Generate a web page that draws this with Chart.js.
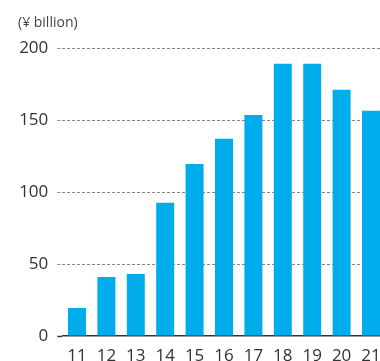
<!DOCTYPE html>
<html>
<head>
<meta charset="utf-8">
<script src="https://cdn.jsdelivr.net/npm/chart.js@4/dist/chart.umd.min.js"></script>
<style>
  html, body { margin: 0; padding: 0; background: #fff; overflow: hidden; }
  #wrap { width: 380px; height: 361px; overflow: hidden; }
</style>
</head>
<body>
<div id="wrap"><canvas id="profitChart" width="390" height="370"></canvas></div>
<script>
const years = ['11', '12', '13', '14', '15', '16', '17', '18', '19', '20', '21'];
const profit = [19.5, 41, 43, 92.5, 119.5, 137, 153.5, 189, 189, 171, 156.5];
const yTicks = [0, 50, 100, 150, 200];

const textColor = '#333';
const barColor = '#00adec';

const ctx = document.getElementById('profitChart').getContext('2d');

const profitChart = new Chart(ctx, {
  type: 'bar',
  data: {
    labels: years,
    datasets: [{
      data: profit,
      backgroundColor: barColor,
      borderWidth: 0,
      categoryPercentage: 1,
      barPercentage: 0.612
    }]
  },
  options: {
    responsive: false,
    animation: false,
    layout: {
      padding: { left: 18, right: 4.3, top: 0, bottom: 0 }
    },
    plugins: {
      legend: { display: false },
      tooltip: { enabled: false },
      title: {
        display: true,
        text: '(¥ billion)',
        align: 'start',
        color: '#444',
        font: { family: 'Open Sans', size: 14, weight: 'normal' },
        padding: { top: 14.6, bottom: 16.6 }
      }
    },
    scales: {
      x: {
        grid: { display: false },
        border: { display: true, color: '#333', width: 1.5 },
        ticks: {
          color: textColor,
          font: { family: 'Open Sans', size: 17 },
          padding: 2,
          maxRotation: 0
        },
        afterFit: (scale) => { scale.height = 34; }
      },
      y: {
        min: 0,
        max: 200,
        afterBuildTicks: (scale) => {
          scale.ticks = yTicks.map(v => ({ value: v }));
        },
        grid: {
          color: (c) => c.tick && c.tick.value === 0 ? 'rgba(0,0,0,0)' : '#888',
          lineWidth: 1,
          tickLength: 5,
          tickColor: (c) => c.tick && c.tick.value === 0 ? '#333' : '#888',
          tickWidth: (c) => c.tick && c.tick.value === 0 ? 1.5 : 1,
          tickBorderDash: (c) => c.tick && c.tick.value === 0 ? [] : [3, 2]
        },
        border: { display: false, dash: [3, 2] },
        ticks: {
          color: textColor,
          font: { family: 'Open Sans', size: 17 },
          padding: 9
        },
        afterFit: (scale) => { scale.width = 44.3; }
      }
    }
  }
});
</script>
</body>
</html>
